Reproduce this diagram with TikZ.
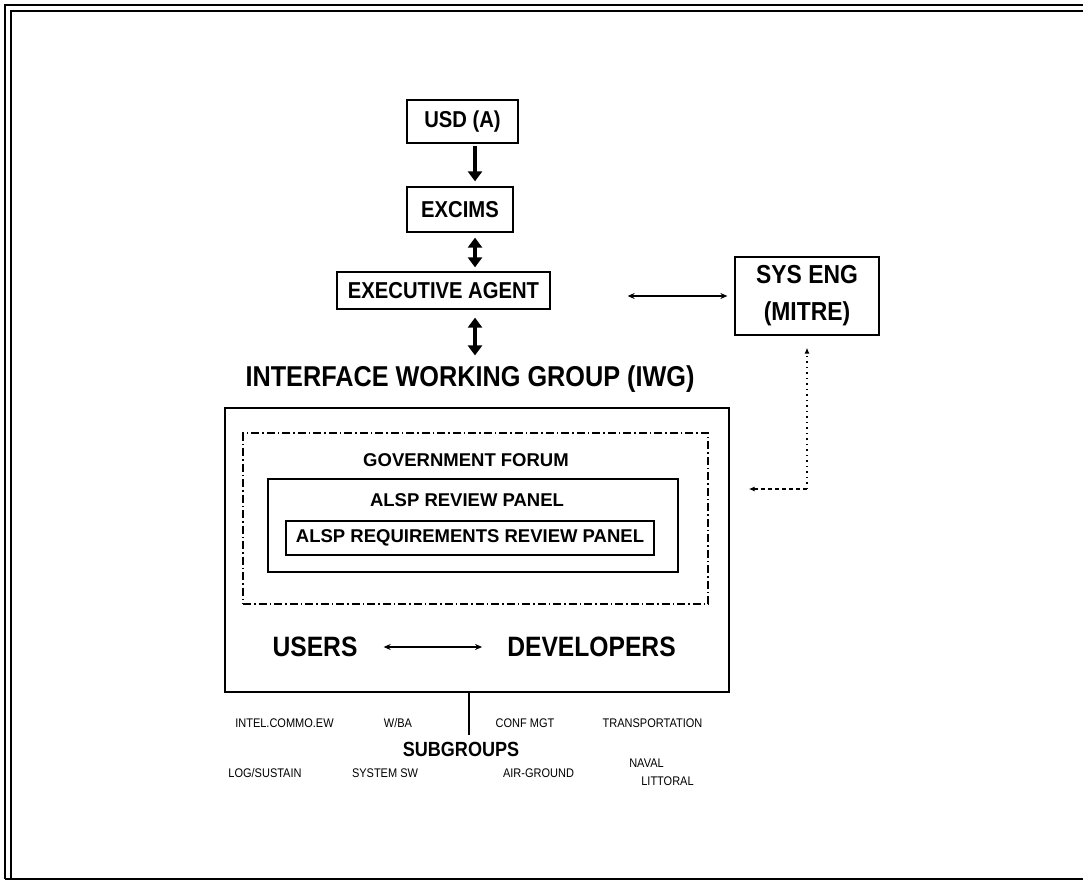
\documentclass[tikz,border=0pt]{standalone}
\usepackage{fontspec}
\setmainfont{Liberation Sans}
\newfontfamily\cnd[FakeStretch=0.88]{Liberation Sans}
\usetikzlibrary{arrows.meta}
\begin{document}
\begin{tikzpicture}[x=1pt,y=-1pt,
  box/.style={draw, line width=1.3pt, inner sep=0pt, align=center},
  lbl/.style={inner sep=0pt, align=center},
  fbox/.style={font=\cnd\bfseries\fontsize{23}{26}\selectfont},
  fsys/.style={font=\cnd\bfseries\fontsize{26}{37}\selectfont},
  ftitle/.style={font=\cnd\bfseries\fontsize{28.7}{30}\selectfont},
  fmid/.style={font=\bfseries\fontsize{18.5}{20}\selectfont},
  fusers/.style={font=\cnd\bfseries\fontsize{28}{30}\selectfont},
  fsub/.style={font=\cnd\bfseries\fontsize{20.5}{22}\selectfont},
  fsmall/.style={font=\cnd\fontsize{12.5}{18}\selectfont},
  heavy/.style={line width=3.6pt, -{Triangle[length=10pt,width=14pt]}},
  heavytwo/.style={line width=3.6pt, {Triangle[length=10pt,width=14pt]}-{Triangle[length=10pt,width=14pt]}},
  thinarrow/.style={line width=1.2pt, {Stealth[length=7pt,width=6pt]}-{Stealth[length=7pt,width=6pt]}},
  frame/.style={line width=2pt},
  dotline/.style={line width=1.4pt, dash pattern=on 1.5pt off 4pt},
  dashline/.style={line width=1.4pt, dash pattern=on 4pt off 3pt},
  dashdotline/.style={line width=1.2pt, dash pattern=on 8pt off 3pt on 1.5pt off 3pt},
]
\useasboundingbox (0,0) rectangle (1083,882);
% outer frame
\draw[frame] (4.5,879) -- (4.5,5) -- (1083,5);
\draw[frame] (10.5,879) -- (10.5,11) -- (1083,11);
\draw[frame] (4.5,879) -- (1083,879);

% top chain
\node[box, fbox, minimum width=111pt, minimum height=43pt] (usd) at (462.5,121.5) {USD (A)};
\node[box, fbox, minimum width=106pt, minimum height=45pt] (excims) at (460,209.5) {EXCIMS};
\node[box, fbox, minimum width=213pt, minimum height=37pt] (ea) at (443.5,290.5) {EXECUTIVE AGENT};
\node[box, fsys, minimum width=144pt, minimum height=78pt] (sys) at (807,296) {SYS ENG\\(MITRE)};
\node[lbl, ftitle] (iwgt) at (470,379) {INTERFACE WORKING GROUP (IWG)};

\draw[heavy, shorten <=2pt, shorten >=5pt] ([xshift=12.5pt]usd.south) -- ([xshift=12.5pt]usd.south |- excims.north);
\draw[heavytwo, shorten <=5pt, shorten >=4pt] ([xshift=15pt]excims.south) -- ([xshift=15pt]excims.south |- ea.north);
\draw[heavytwo, shorten <=8pt, shorten >=10pt] ([xshift=31.5pt]ea.south) -- ([xshift=31.5pt]ea.south |- iwgt.north);
\draw[thinarrow, shorten <=77pt, shorten >=7pt] (ea.east |- sys.west) -- (sys.west);

% IWG
\node[box, minimum width=504pt, minimum height=284pt] (iwg) at (477,550) {};
\node[draw, dashdotline, inner sep=0pt, minimum width=465pt, minimum height=171pt] (gf) at (475.5,518.5) {};
\node[lbl, fmid] (gft) at (466,460) {GOVERNMENT FORUM};
\node[box, minimum width=410pt, minimum height=93pt] (arp) at (473,525.5) {};
\node[lbl, fmid] (arpt) at (467,500) {ALSP REVIEW PANEL};
\node[box, fmid, line width=1.1pt, minimum width=368pt, minimum height=34pt] (arrp) at (470,538) {ALSP REQUIREMENTS REVIEW PANEL};
\node[lbl, fusers] (users) at (315,647) {USERS};
\node[lbl, fusers] (dev) at (591.5,647) {DEVELOPERS};
\draw[thinarrow, shorten <=26pt, shorten >=25pt] (users.east) -- (dev.west);

% SYS ENG dotted link
\coordinate (dc) at (807,489);
\draw[dotline, -{Latex[length=6pt,width=5pt]}, shorten >=12pt] (dc) -- (sys.south);
\draw[dashline, -{Latex[length=6pt,width=5pt]}, shorten >=19pt] (dc) -- (dc -| iwg.east);

% subgroups
\coordinate (sgtop) at (469,735);
\draw[line width=1.6pt] (iwg.south -| sgtop) -- (sgtop);
\node[lbl, fsub] (sg) at (461,749) {SUBGROUPS};
\node[lbl, fsmall] (s1) at (284.5,723) {INTEL.COMMO.EW};
\node[lbl, fsmall] (s2) at (398,723) {W/BA};
\node[lbl, fsmall] (s3) at (525,723) {CONF MGT};
\node[lbl, fsmall] (s4) at (652.5,723) {TRANSPORTATION};
\node[lbl, fsmall] (s5) at (265,773) {LOG/SUSTAIN};
\node[lbl, fsmall] (s6) at (385,773) {SYSTEM SW};
\node[lbl, fsmall] (s7) at (538.5,773) {AIR-GROUND};
\node[lbl, fsmall] (s8) at (646.5,763) {NAVAL};
\node[lbl, fsmall] (s9) at (667.5,781) {LITTORAL};
\end{tikzpicture}
\end{document}
